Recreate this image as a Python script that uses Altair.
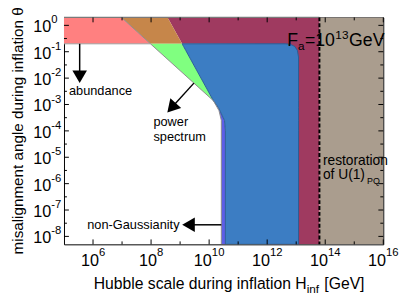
import altair as alt
import pandas as pd

# ---------------- data (log10 units) ----------------
X_DOMAIN = [1e5, 1e16]
Y_DOMAIN = [5e-9, 2.0]

x_major_exp = [6, 8, 10, 12, 14, 16]
x_minor_exp = [7, 9, 11, 13, 15]
y_major_exp = [0, -1, -2, -3, -4, -5, -6, -7, -8]
y_minor_exp = [-0.5, -1.5, -2.5, -3.5, -4.5, -5.5, -6.5, -7.5]

# regions: theta (log10), left H (log10), right H (log10)
tan_t = [-8.3, 0.3]
tan_l = [13.8, 13.8]
tan_r = [16.0, 16.0]

mag_t = [-8.3, -0.71, -0.7, 0.3]
mag_l = [12.0, 12.0, 9.07, 8.57]
mag_r = [13.8, 13.8, 13.8, 13.8]

pink_t = [-0.7, 0.3]
pink_l = [5.0, 5.0]
pink_r = [7.98, 6.98]

orange_t = [-0.7, 0.3]
orange_l = [7.98, 6.98]
orange_r = [9.07, 8.57]

green_t = [-2.86, -0.7]
green_l = [10.15, 7.98]
green_r = [10.15, 9.07]

purple_t = [-8.3, -4.0, -3.6, -3.23, -2.86]
purple_l = [10.42, 10.42, 10.42, 10.34, 10.15]
purple_r = [10.56, 10.56, 10.53, 10.37, 10.15]

blue_t = [-8.3, -4.0, -3.6, -3.12, -2.86, -1.2, -0.95, -0.8, -0.72, -0.7]
blue_l = [10.56, 10.56, 10.53, 10.32, 10.15, 9.32, 9.195, 9.12, 9.08, 9.07]
blue_r = [13.08, 13.08, 13.08, 13.08, 13.08, 13.08, 13.04, 12.95, 12.8, 12.63]

gray_h = [6.98, 7.98, 10.15, 10.34, 10.42, 10.42]
gray_t = [0.3, -0.7, -2.86, -3.23, -3.6, -8.3]

band_h = [5.0, 7.98]
band_t = [-0.7, -0.7]

top_h = [5.0, 13.8]
top_t = [0.301, 0.301]

restoration_h = 13.8

# arrows: shaft (h1,t1)->(h2,t2), head position, head angle
arrow_h1 = [5.54, 9.475, 10.42]
arrow_t1 = [-0.7, -2.19, -7.56]
arrow_h2 = [5.54, 8.72, 9.35]
arrow_t2 = [-1.85, -3.1, -7.56]
head_h = [5.54, 8.705, 9.29]
head_t = [-1.95, -3.13, -7.56]
head_angle = [180, 222, 270]

ann_text = ["abundance", "power", "spectrum", "non-Gaussianity", "restoration", "of U(1)"]
ann_h = [5.17, 8.08, 8.08, 8.98, 13.92, 13.92]
ann_t = [-2.49, -3.68, -4.22, -7.56, -5.16, -5.69]
ann_align = ["left", "left", "left", "right", "left", "left"]
ann_size = [13, 13, 13, 13, 14, 14]

# ---------------- helpers ----------------
FONT = "Liberation Sans"
xs = alt.Scale(type="log", domain=X_DOMAIN, nice=False)
ys = alt.Scale(type="log", domain=Y_DOMAIN, nice=False)


def P(v):
    return 10.0 ** v


def X(f="h"):
    return alt.X(f + ":Q", scale=xs, axis=None)


def Y(f="t"):
    return alt.Y(f + ":Q", scale=ys, axis=None)


def area(tl, ll, rl, color, stroke=None):
    df = pd.DataFrame({"t": [P(v) for v in tl], "h": [P(v) for v in ll], "x2": [P(v) for v in rl]})
    kw = dict(orient="horizontal", color=color, opacity=1, clip=True)
    if stroke:
        kw.update(stroke=stroke, strokeWidth=1)
    return alt.Chart(df).mark_area(**kw).encode(y=Y(), x=X(), x2="x2:Q")


def polyline(hl, tl, color, width, clip=True):
    df = pd.DataFrame({"h": [P(v) for v in hl], "t": [P(v) for v in tl], "i": list(range(len(hl)))})
    return alt.Chart(df).mark_line(color=color, strokeWidth=width, clip=clip).encode(x=X(), y=Y(), order="i:Q")


layers = []
layers.append(area(tan_t, tan_l, tan_r, "#AA9D8E"))
layers.append(area(mag_t, mag_l, mag_r, "#9F3A60"))
layers.append(area(pink_t, pink_l, pink_r, "#FF8080"))
layers.append(area(orange_t, orange_l, orange_r, "#C6864A"))
layers.append(area(green_t, green_l, green_r, "#80FF80"))
layers.append(area(purple_t, purple_l, purple_r, "#5E5EE6"))
layers.append(area(blue_t, blue_l, blue_r, "#3C7DC3", stroke="#2B5E96"))
layers.append(polyline(gray_h, gray_t, "#8C8C8C", 1))
layers.append(polyline(band_h, band_t, "#A0A0A0", 1))
layers.append(polyline(top_h, top_t, "#7A7A7A", 1.2, clip=False))

layers.append(alt.Chart(pd.DataFrame({"h": [P(restoration_h)]})).mark_rule(
    color="black", strokeWidth=2, strokeDash=[4, 2]).encode(x=X()))

# arrows
arr_df = pd.DataFrame({"h": [P(v) for v in arrow_h1], "t": [P(v) for v in arrow_t1],
                       "h2": [P(v) for v in arrow_h2], "t2": [P(v) for v in arrow_t2]})
layers.append(alt.Chart(arr_df).mark_rule(color="black", strokeWidth=1.5).encode(
    x=X(), y=Y(), x2="h2:Q", y2="t2:Q"))
head_df = pd.DataFrame({"h": [P(v) for v in head_h], "t": [P(v) for v in head_t], "a": head_angle})
layers.append(alt.Chart(head_df).mark_point(shape="triangle-up", filled=True, color="black", opacity=1, size=220).encode(
    x=X(), y=Y(), angle=alt.Angle("a:Q", scale=None)))

# annotations
ann_df = pd.DataFrame({"h": [P(v) for v in ann_h], "t": [P(v) for v in ann_t], "txt": ann_text,
                       "al": ann_align, "fs": ann_size})
for al in ["left", "right"]:
    for fs in sorted(set(ann_size)):
        sub = ann_df[(ann_df.al == al) & (ann_df.fs == fs)]
        if len(sub) == 0:
            continue
        layers.append(alt.Chart(sub).mark_text(
            align=al, baseline="middle", fontSize=fs, font=FONT, color="black").encode(
            x=X(), y=Y(), text="txt:N"))

# subscript PQ
pq_df = pd.DataFrame({"h": [P(13.92)], "t": [P(-5.69)], "txt": ["PQ"]})
layers.append(alt.Chart(pq_df).mark_text(align="left", baseline="middle", fontSize=9, dx=45, dy=6,
                                          font=FONT, color="black").encode(x=X(), y=Y(), text="txt:N"))

# F_a = 10^13 GeV
fa_parts = ["F", "a", "=10", "13", "GeV"]
fa_dx = [0, 11, 18, 49, 63]
fa_dy = [0, 4, 0, -7, 0]
fa_size = [18, 12, 18, 12, 18]
for txt, dx, dy, fs in zip(fa_parts, fa_dx, fa_dy, fa_size):
    d = pd.DataFrame({"h": [P(12.69)], "t": [P(-0.78)], "txt": [txt]})
    layers.append(alt.Chart(d).mark_text(align="left", baseline="alphabetic", fontSize=fs, dx=dx, dy=dy,
                                         font=FONT, color="black").encode(x=X(), y=Y(), text="txt:N"))

# ---------------- ticks ----------------
W, H = 325, 231


def xticks(exps, length):
    d = pd.DataFrame({"h": [P(v) for v in exps]})
    b = alt.Chart(d).mark_rule(color="black", strokeWidth=1).encode(x=X(), y=alt.value(H), y2=alt.value(H - length))
    t = alt.Chart(d).mark_rule(color="black", strokeWidth=1).encode(x=X(), y=alt.value(0), y2=alt.value(length))
    return [b, t]


def yticks(exps, length):
    d = pd.DataFrame({"t": [P(v) for v in exps]})
    l = alt.Chart(d).mark_rule(color="black", strokeWidth=1).encode(y=Y(), x=alt.value(0), x2=alt.value(length))
    r = alt.Chart(d).mark_rule(color="black", strokeWidth=1).encode(y=Y(), x=alt.value(W), x2=alt.value(W - length))
    return [l, r]


layers += xticks(x_major_exp, 5) + xticks(x_minor_exp, 3)
layers += yticks(y_major_exp, 5) + yticks(y_minor_exp, 3)

# tick labels (base "10" + superscript exponent), whole label centred on tick
BASE_FS, EXP_FS = 16.5, 11.5
for e in x_major_exp:
    es = str(e)
    bw = 1.112 * BASE_FS
    ew = 0.556 * len(es) * EXP_FS
    off = -(bw + ew) / 2 + bw
    d = pd.DataFrame({"h": [P(e)], "b": ["10"], "e": [es]})
    layers.append(alt.Chart(d).mark_text(align="right", baseline="middle", fontSize=BASE_FS, dx=off,
                                         font=FONT, color="black").encode(x=X(), y=alt.value(H + 17), text="b:N"))
    layers.append(alt.Chart(d).mark_text(align="left", baseline="middle", fontSize=EXP_FS, dx=off,
                                         font=FONT, color="black").encode(x=X(), y=alt.value(H + 9), text="e:N"))

yl = pd.DataFrame({"t": [P(v) for v in y_major_exp], "e": [str(v) for v in y_major_exp], "b": ["10"] * len(y_major_exp)})
layers.append(alt.Chart(yl).mark_text(align="right", baseline="middle", fontSize=BASE_FS, dy=2,
                                      font=FONT, color="black").encode(y=Y(), x=alt.value(-13), text="b:N"))
layers.append(alt.Chart(yl).mark_text(align="left", baseline="middle", fontSize=EXP_FS, dy=-5,
                                      font=FONT, color="black").encode(y=Y(), x=alt.value(-13), text="e:N"))

# axis titles
layers.append(alt.Chart(pd.DataFrame({"txt": ["misalignment angle during inflation θ"]})).mark_text(
    angle=270, align="center", baseline="middle", fontSize=15.5, font=FONT, color="black").encode(
    x=alt.value(-47), y=alt.value(H / 2), text="txt:N"))
xt_parts = ["Hubble scale during inflation H", "inf", "[GeV]"]
xt_x = [247, 247, 265]
xt_y = [276.5, 280.5, 276.5]
xt_fs = [16, 12, 16]
xt_al = ["right", "left", "left"]
for txt, px, py, fs, al in zip(xt_parts, xt_x, xt_y, xt_fs, xt_al):
    layers.append(alt.Chart(pd.DataFrame({"txt": [txt]})).mark_text(
        align=al, baseline="alphabetic", fontSize=fs, font=FONT, color="black").encode(
        x=alt.value(px), y=alt.value(py), text="txt:N"))

chart = alt.layer(*layers).properties(
    width=W, height=H,
    autosize=alt.AutoSizeParams(type="none"),
    padding={"left": 57, "top": 7, "right": 16, "bottom": 50},
).configure_view(stroke="black", strokeWidth=1)

chart.save("out.html", embed_options={"renderer": "svg", "actions": False})
